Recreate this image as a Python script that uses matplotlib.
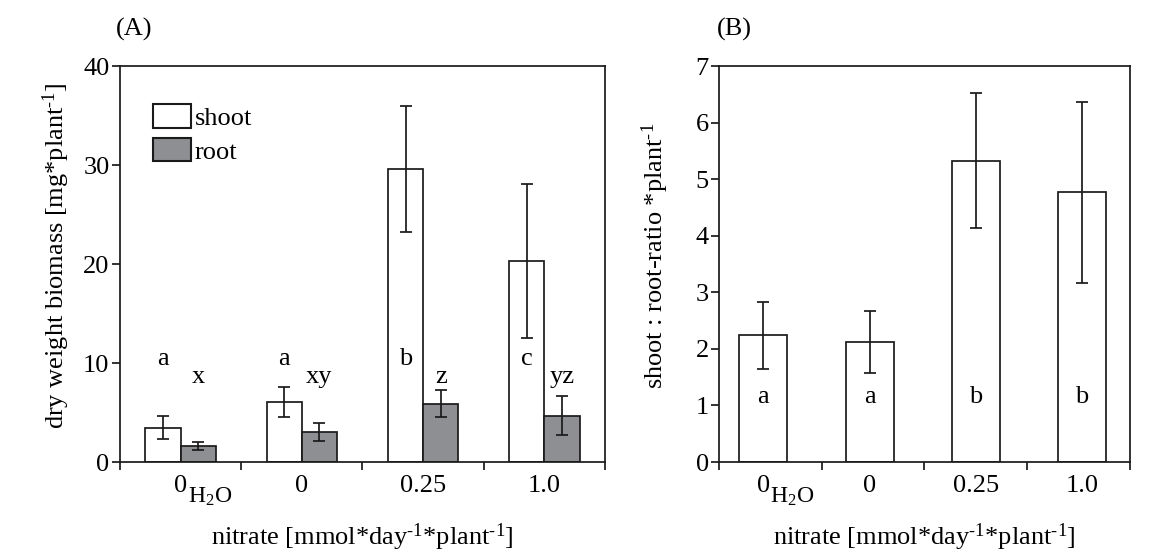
import matplotlib
matplotlib.use('Agg')
import matplotlib.pyplot as plt
import matplotlib.patches as mpatches
import numpy as np
from matplotlib.transforms import blended_transform_factory

plt.rcParams['font.family'] = ['Liberation Serif', 'DejaVu Serif']
plt.rcParams['mathtext.fontset'] = 'custom'
plt.rcParams['mathtext.rm'] = 'Liberation Serif'
plt.rcParams['mathtext.it'] = 'Liberation Serif:italic'
plt.rcParams['mathtext.bf'] = 'Liberation Serif:bold'

# ---- data ----
categories = ['0', '0', '0.25', '1.0']
shoot = [3.47, 6.03, 29.6, 20.3]
shoot_err = [1.18, 1.5, 6.4, 7.8]
root = [1.6, 3.0, 5.9, 4.7]
root_err = [0.4, 0.9, 1.35, 2.0]
shoot_letters = ['a', 'a', 'b', 'c']
root_letters = ['x', 'xy', 'z', 'yz']
ratio = [2.24, 2.12, 5.33, 4.77]
ratio_err = [0.59, 0.55, 1.2, 1.6]
ratio_letters = ['a', 'a', 'b', 'b']

FS = 19
LW = 1.25
GREY = '#8e8f93'
INK = '#1a1a1a'
SUP = r'$^{\text{-}1}$'

fig = plt.figure(figsize=(11.59, 5.54), dpi=100)
axA = fig.add_axes([0.1035, 0.166, 0.4185, 0.7148])
axB = fig.add_axes([0.6204, 0.166, 0.3542, 0.7148])

ekw = dict(ecolor=INK, elinewidth=LW, capsize=4, capthick=LW)

def style(ax):
    for s in ax.spines.values():
        s.set_linewidth(LW)
        s.set_color(INK)
    ax.tick_params(axis='y', direction='out', length=5.5, width=LW, pad=2,
                   labelsize=FS, color=INK)
    ax.tick_params(axis='x', which='major', direction='out', length=5.5,
                   width=LW, labelbottom=False, color=INK)
    ax.tick_params(axis='x', which='minor', length=0, pad=9, labelsize=FS)

# ---- panel A ----
x = np.arange(len(categories))
w = 0.29
axA.bar(x - w / 2, shoot, w, yerr=shoot_err, color='white', edgecolor=INK,
        linewidth=LW, error_kw=ekw, zorder=2)
axA.bar(x + w / 2, root, w, yerr=root_err, color=GREY, edgecolor=INK,
        linewidth=LW, error_kw=ekw, zorder=2)
axA.set_xlim(-0.5, 3.5)
axA.set_ylim(0, 40)
axA.set_yticks([0, 10, 20, 30, 40])
axA.set_xticks(np.arange(-0.5, 4, 1.0))
axA.set_xticks(x, minor=True)
axA.set_xticklabels(categories, minor=True)
style(axA)
for xi, s_l, r_l in zip(x, shoot_letters, root_letters):
    axA.text(xi - w / 2, 9.8, s_l, ha='center', va='baseline', fontsize=FS)
    axA.text(xi + w / 2, 8.0, r_l, ha='center', va='baseline', fontsize=FS)
axA.set_ylabel('dry weight biomass [mg*plant' + SUP + ']', fontsize=FS, va='center')
axA.yaxis.set_label_coords(-0.132, 0.52)
axA.set_xlabel('nitrate [mmol*day' + SUP + '*plant' + SUP + ']', fontsize=FS, va='center')
axA.xaxis.set_label_coords(0.5, -0.19)
axA.text(-0.008, 1.092, '(A)', transform=axA.transAxes, ha='left',
         va='center', fontsize=FS)
handles = [mpatches.Patch(facecolor='white', edgecolor=INK, linewidth=1.5),
           mpatches.Patch(facecolor=GREY, edgecolor=INK, linewidth=1.5)]
axA.legend(handles, ['shoot', 'root'], loc='upper left',
           bbox_to_anchor=(0.0687, 0.9033), frameon=False, borderpad=0,
           borderaxespad=0, handlelength=1.43, handleheight=0.98,
           handletextpad=0.15, labelspacing=0.3, fontsize=FS)

# ---- panel B ----
axB.bar(x, ratio, 0.452, yerr=ratio_err, color='white', edgecolor=INK,
        linewidth=LW, error_kw=ekw, zorder=2)
xl = (-0.416, 3.447)
axB.set_xlim(*xl)
axB.set_ylim(0, 7)
axB.set_yticks(range(0, 8))
axB.set_xticks(np.linspace(xl[0], xl[1], 5))
axB.set_xticks(x, minor=True)
axB.set_xticklabels(categories, minor=True)
style(axB)
for xi, l in zip(x, ratio_letters):
    axB.text(xi, 1.05, l, ha='center', va='baseline', fontsize=FS)
axB.set_ylabel('shoot : root-ratio *plant' + SUP, fontsize=FS, va='center')
axB.yaxis.set_label_coords(-0.155, 0.52)
axB.set_xlabel('nitrate [mmol*day' + SUP + '*plant' + SUP + ']', fontsize=FS, va='center')
axB.xaxis.set_label_coords(0.5, -0.19)
axB.text(-0.005, 1.092, '(B)', transform=axB.transAxes, ha='left',
         va='center', fontsize=FS)

# subscripts for the water control label
for ax in (axA, axB):
    tr = blended_transform_factory(ax.transData, ax.transAxes)
    ax.annotate('H$_2$O', xy=(0, 0), xycoords=tr, xytext=(5, -29.5),
                textcoords='offset points', ha='left', va='baseline',
                fontsize=17, annotation_clip=False)

fig.savefig('out.png', dpi=100, facecolor='white')
